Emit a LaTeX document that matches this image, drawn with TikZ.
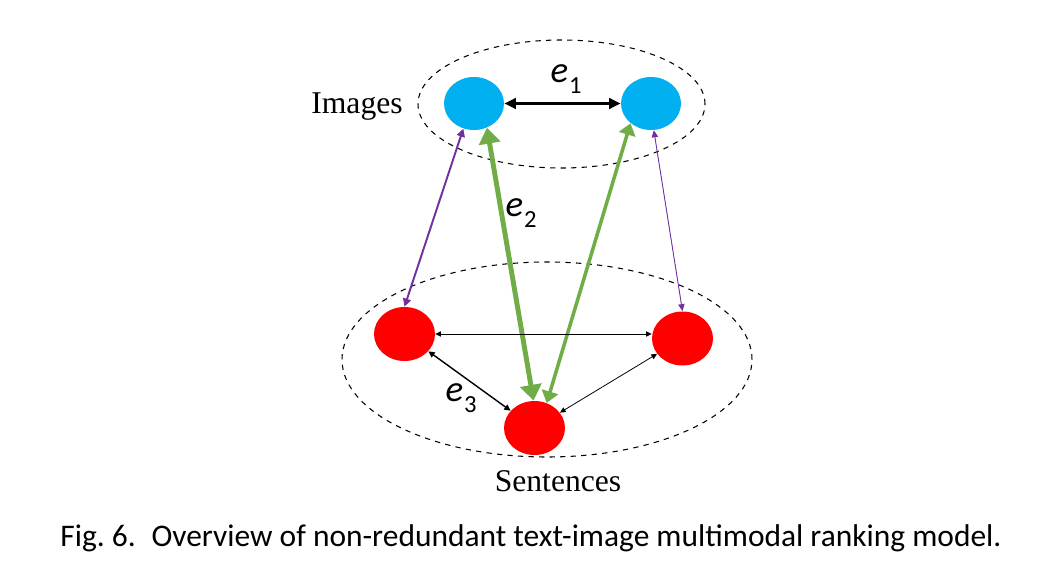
\documentclass[tikz,border=0pt]{standalone}
\usepackage{fontspec}
\setmainfont{Liberation Serif}
\newfontfamily\capfont{Carlito}
\usepackage{xcolor}
\usepackage{tikz}
\usetikzlibrary{shapes.geometric,arrows.meta,positioning,calc}

\definecolor{imgblue}{HTML}{00B0F0}
\definecolor{linkgreen}{HTML}{70AD47}
\definecolor{linkpurple}{HTML}{7030A0}

\newcommand{\elab}[1]{\textit{e}\kern0.5pt\raisebox{-0.3em}{\fontsize{14}{16}\selectfont #1}}

\begin{document}
\begin{tikzpicture}[
    imgnode/.style={ellipse, fill=imgblue, minimum width=1.2cm, minimum height=1.06cm, inner sep=0pt},
    sennode/.style={ellipse, fill=red, minimum width=1.22cm, minimum height=1.08cm, inner sep=0pt},
    setbox/.style={ellipse, draw=black, dashed, line width=0.6pt, inner sep=0pt},
    setlabel/.style={font=\fontsize{18}{22}\selectfont},
    elabel/.style={font=\capfont\fontsize{21}{24}\selectfont},
    greenlink/.style={{Triangle[length=9pt,width=12pt]}-{Triangle[length=9pt,width=12pt]}, line width=2.8pt, draw=linkgreen, fill=linkgreen},
    greenthin/.style={{Triangle[length=6.6pt,width=9.5pt]}-{Triangle[length=6.6pt,width=9.5pt]}, line width=2pt, draw=linkgreen, fill=linkgreen},
    purplelink/.style={{Triangle[length=4.6pt,width=4.6pt]}-{Triangle[length=4.6pt,width=4.6pt]}, line width=1.1pt, draw=linkpurple, fill=linkpurple},
    purplethin/.style={{Triangle[length=4pt,width=3.6pt]}-{Triangle[length=4pt,width=3.6pt]}, line width=0.5pt, draw=linkpurple, fill=linkpurple},
    blacklink/.style={{Triangle[length=3.6pt,width=3.4pt]}-{Triangle[length=3.6pt,width=3.4pt]}, line width=0.8pt},
    blackthin/.style={{Triangle[length=3.2pt,width=3pt]}-{Triangle[length=3.2pt,width=3pt]}, line width=0.45pt}
]
    \useasboundingbox (0,0) rectangle (21.24,11.48);

    % the two sets
    \node [setbox, minimum width=5.74cm, minimum height=2.56cm] (imgset) at (11.23,9.40) {};
    \node [setbox, minimum width=8.2cm, minimum height=3.9cm] (senset) at (10.94,4.29) {};

    % images
    \node [imgnode] (img1) at (9.48,9.41) {};
    \node [imgnode] (img2) at (13.02,9.41) {};
    % sentences
    \node [sennode] (sen1) at (8.09,4.80) {};
    \node [sennode] (sen2) at (13.65,4.71) {};
    \node [sennode] (sen3) at (10.69,2.92) {};

    \node [setlabel] (imglabel) at (7.14,9.34) {Images};
    \node [setlabel] (senlabel) at (11.16,1.86) {Sentences};

    % links
    \draw [{Triangle[length=6.6pt,width=6pt]}-{Triangle[length=6.6pt,width=6pt]}, line width=1.7pt] (img1.east) -- (img2.west);
    \draw [greenlink] (img1.-62) -- (sen3.92);
    \draw [greenthin] (img2.-136) -- (sen3.64);
    \draw [purplelink] (img1.-113) -- (sen1.north);
    \draw [purplethin] (img2.-84) -- (sen2.north);
    \draw [blackthin] (sen1.east) -- (sen1.east -| sen2.west);
    \draw [blacklink] (sen1) -- (sen3);
    \draw [blackthin] (sen2) -- (sen3);

    \node [elabel] (e1) at (11.32,9.90) {\elab{1}};
    \node [elabel] (e2) at (10.42,7.22) {\elab{2}};
    \node [elabel] (e3) at (9.22,3.52) {\elab{3}};

    \node [font=\capfont\fontsize{17.9}{21}\selectfont] (caption) at (10.62,0.72) {Fig.~6.\enspace Overview of non-redundant text-image multimodal ranking model.};
\end{tikzpicture}
\end{document}
